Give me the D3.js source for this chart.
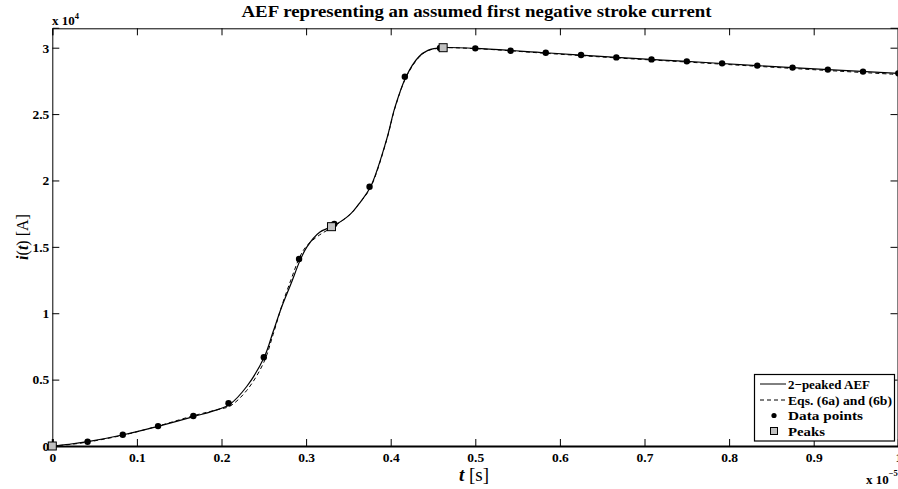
<!DOCTYPE html>
<html><head><meta charset="utf-8">
<script src="https://cdn.jsdelivr.net/npm/d3@7"></script>
<style>body{margin:0;background:#fff}svg{display:block}text{font-family:"Liberation Serif","Times New Roman",serif}</style>
</head><body>
<svg id="c" width="898" height="489"></svg>
<script>
// t in units of 1e-5 s, i in A
const aefT = [0,0.02,0.042,0.084,0.126,0.168,0.198,0.21,0.23,0.2506,0.261,0.271,0.282,0.293,0.301,0.316,0.333,0.352,0.362,0.376,0.395,0.405,0.418,0.433,0.444,0.462,0.5,0.583,0.667,0.75,0.833,0.917,1.0];
const aefI = [0,130,330,850,1500,2230,2800,3150,4500,6700,8600,10450,12200,14000,15000,16100,16600,17450,18200,19500,23050,25500,27800,29300,29800,30000,29950,29620,29270,28970,28650,28350,28070];
const eqT = [0,0.02,0.042,0.084,0.126,0.168,0.198,0.21,0.23,0.25,0.261,0.271,0.282,0.293,0.301,0.316,0.333,0.352,0.362,0.376,0.395,0.405,0.418,0.433,0.444,0.462,0.5,0.583,0.667,0.75,0.833,0.917,1.0];
const eqI = [0,110,300,820,1520,2300,2780,3000,4200,6300,8400,10500,12500,14300,15100,15900,16550,17450,18200,19450,23000,25450,27750,29250,29780,29980,29930,29580,29230,28920,28600,28280,27980];
const dataT = [0.0417,0.0833,0.125,0.1667,0.2083,0.25,0.2917,0.3333,0.375,0.4167,0.4583,0.5,0.5417,0.5833,0.625,0.6667,0.7083,0.75,0.7917,0.8333,0.875,0.9167,0.9583,1.0];
const dataI = [325,850,1500,2260,3215,6680,14085,16720,19530,27810,29980,29950,29770,29620,29450,29270,29120,28970,28820,28650,28500,28350,28200,28070];
const peakT = [0,0.33,0.462];
const peakI = [0,16520,30000];
const xTicks = [0,0.1,0.2,0.3,0.4,0.5,0.6,0.7,0.8,0.9,1];
const yTicks = [0,5000,10000,15000,20000,25000,30000];
const yTickLabels = ["0","0.5","1","1.5","2","2.5","3"];
const legendLabels = ["2\u2212peaked AEF","Eqs. (6a) and (6b)","Data points","Peaks"];

const svg = d3.select("#c");
const L=52.3, R=898.3, T=28.3, B=446;
const x = d3.scaleLinear().domain([0,1]).range([L,R]);
const y = d3.scaleLinear().domain([0,31500]).range([B,B-31500*398.3/30000]);

svg.append("g").attr("transform",`translate(0,${B})`)
  .call(d3.axisBottom(x).tickValues(xTicks).tickSize(-7).tickPadding(6).tickFormat(d=>String(d)))
  .call(g=>{g.select(".domain").attr("stroke-width",2);g.selectAll("text").attr("font-size",13.5).attr("font-weight","bold").attr("fill","#000");});
svg.append("g").attr("transform",`translate(0,${T})`)
  .call(d3.axisTop(x).tickValues(xTicks).tickSize(-7).tickFormat(""));
svg.append("g").attr("transform",`translate(${L},0)`)
  .call(d3.axisLeft(y).tickValues(yTicks).tickSize(-7).tickPadding(3).tickFormat((d,i)=>yTickLabels[i]))
  .call(g=>{g.selectAll("text").attr("font-size",13.5).attr("font-weight","bold").attr("fill","#000");});
svg.append("g").attr("transform",`translate(${R-0.8},0)`)
  .call(d3.axisRight(y).tickValues(yTicks).tickSize(-7).tickFormat(""));
svg.selectAll(".domain").attr("stroke","#000");
svg.selectAll(".tick line").attr("stroke","#000");

const line = d3.line().x(d=>x(d[0])).y(d=>y(d[1])).curve(d3.curveCatmullRom.alpha(0.5));
const plot = svg.append("g");
plot.append("path").datum(eqT.map((t,i)=>[t,eqI[i]])).attr("d",line)
  .attr("fill","none").attr("stroke","#000").attr("stroke-width",1).attr("stroke-dasharray","4,3");
plot.append("path").datum(aefT.map((t,i)=>[t,aefI[i]])).attr("d",line)
  .attr("fill","none").attr("stroke","#000").attr("stroke-width",1.2);
plot.selectAll("circle.dp").data(dataT.map((t,i)=>[t,dataI[i]])).enter().append("circle")
  .attr("cx",d=>x(d[0])).attr("cy",d=>y(d[1])).attr("r",3.2).attr("fill","#000");
plot.selectAll("rect.pk").data(peakT.map((t,i)=>[t,peakI[i]])).enter().append("rect")
  .attr("x",d=>x(d[0])-4).attr("y",d=>y(d[1])-4).attr("width",8).attr("height",8)
  .attr("fill","#c0c0c0").attr("stroke","#000").attr("stroke-width",1);

svg.append("text").attr("x",476.5).attr("y",16.5).attr("text-anchor","middle")
  .attr("font-size",17).attr("font-weight","bold").attr("textLength",470).attr("lengthAdjust","spacingAndGlyphs")
  .text("AEF representing an assumed first negative stroke current");
const e1 = svg.append("text").attr("x",52).attr("y",24.5).attr("font-size",13).attr("font-weight","bold");
e1.append("tspan").text("x 10");
e1.append("tspan").attr("dy",-6).attr("font-size",8.5).text("4");
const e2 = svg.append("text").attr("x",866).attr("y",484).attr("font-size",13).attr("font-weight","bold");
e2.append("tspan").text("x 10");
e2.append("tspan").attr("dy",-8).attr("font-size",8.5).text("\u22125");
const xl = svg.append("text").attr("x",474).attr("y",481).attr("text-anchor","middle").attr("font-size",19);
xl.append("tspan").attr("font-weight","bold").attr("font-style","italic").text("t");
xl.append("tspan").text(" [s]");
const yl = svg.append("text").attr("transform","translate(28,237) rotate(-90)").attr("text-anchor","middle").attr("font-size",16);
yl.append("tspan").attr("font-weight","bold").attr("font-style","italic").text("i");
yl.append("tspan").text("(");
yl.append("tspan").attr("font-weight","bold").attr("font-style","italic").text("t");
yl.append("tspan").text(") [A]");

const lg = svg.append("g");
lg.append("rect").attr("x",754.5).attr("y",374.5).attr("width",140).attr("height",66.5)
  .attr("fill","#fff").attr("stroke","#000").attr("stroke-width",1.2);
const rows = [384,400,415.5,431];
lg.append("line").attr("x1",760).attr("x2",786).attr("y1",rows[0]).attr("y2",rows[0]).attr("stroke","#000");
lg.append("line").attr("x1",760).attr("x2",786).attr("y1",rows[1]).attr("y2",rows[1]).attr("stroke","#000").attr("stroke-dasharray","4,3");
lg.append("circle").attr("cx",774).attr("cy",rows[2]).attr("r",2.6).attr("fill","#000");
lg.append("rect").attr("x",770.5).attr("y",rows[3]-3.5).attr("width",7).attr("height",7).attr("fill","#c0c0c0").attr("stroke","#000");
lg.selectAll("text.lt").data(legendLabels).enter().append("text")
  .attr("x",788).attr("y",(d,i)=>rows[i]+4.5).attr("font-size",13.5).attr("font-weight","bold")
  .attr("textLength",(d,i)=>[82,104,75,37][i]).attr("lengthAdjust","spacingAndGlyphs").text(d=>d);
</script>
</body></html>
